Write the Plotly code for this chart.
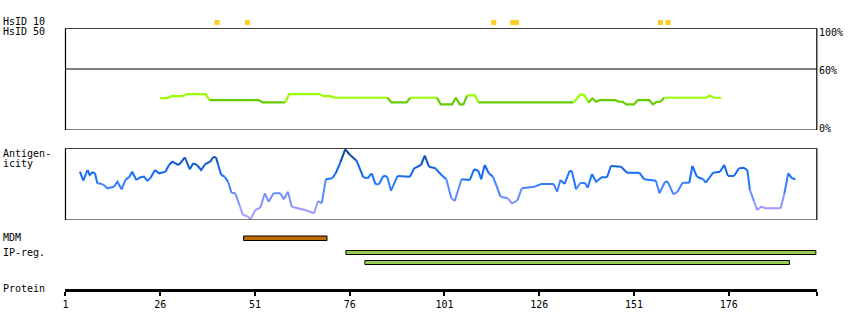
import plotly.graph_objects as go

# ---------------- data ----------------
protein_length = 199.24
tick_vals = [1, 26, 51, 76, 101, 126, 151, 176]

hsid10_pos = [41, 49, 114, 119, 120, 158, 160]

hsid50_res = [26, 28, 29, 32, 33, 38, 39, 52, 53, 59, 60, 68, 69, 71, 72, 86, 87, 91, 92, 99,
              100, 103, 104, 105, 106, 107, 109, 110, 135, 137, 138, 139, 140, 141, 142, 146,
              147, 148, 149, 151, 152, 155, 156, 157, 158, 159, 170, 171, 172, 174]
hsid50_pct = [31.4, 31.4, 33.3, 33.3, 35.3, 35.3, 29.4, 29.4, 27.1, 27.1, 35.3, 35.3, 33.3, 33.3,
              31.7, 31.7, 27.1, 27.1, 31.7, 31.7, 25.2, 25.2, 31.7, 25.2, 25.2, 34, 34, 27.1, 27.1,
              35.3, 33.7, 27.1, 31, 27.8, 29.4, 29.4, 27.8, 27.8, 25.2, 25.2, 29.4, 29.4, 25.2,
              27.8, 27.8, 31.7, 31.7, 34, 31.7, 31.7]

antig_res = [4.8, 5.7, 6.8, 7.4, 8.1, 8.8, 9.4, 10.7, 12.1, 13.8, 14.7, 15.8, 16.9, 17.8, 18.6,
             19.7, 20.8, 21.7, 22.6, 23.4, 24.6, 25.7, 27.4, 28.3, 29.2, 30, 30.9, 32.5, 33.8,
             34.7, 35.7, 36.8, 37.9, 39.2, 39.9, 40.7, 41.3, 42.1, 43, 43.9, 44.8, 45.8, 46.9,
             47.8, 48.9, 49.8, 51.1, 52.4, 53.6, 54.6, 55.9, 57.7, 58.6, 59.7, 60.7, 62.5, 64.2,
             66.6, 67.6, 68.6, 69.7, 71.4, 72.3, 73.5, 74.8, 76.1, 77.8, 79.6, 80.7, 81.8, 82.8,
             83.7, 84.9, 85.9, 86.9, 88.6, 90.6, 91.9, 93, 94.8, 95.8, 96.9, 98.6, 100.2, 101.5,
             102.8, 103.7, 105.5, 107.7, 108.8, 109.9, 110.7, 111.6, 112.7, 113.8, 115.8, 117.7,
             118.8, 120.2, 121.4, 124.8, 126.5, 129.8, 130.7, 131.6, 132.7, 134, 134.6, 135.7,
             136.9, 138.1, 138.8, 139.9, 141, 142.5, 143.9, 144.9, 147.6, 149.2, 152.4, 153.7,
             156.8, 157.7, 159.2, 159.9, 161.4, 162.5, 163.8, 165.6, 166.4, 167.6, 169.3, 169.9,
             171.9, 173.7, 174.8, 175.8, 177.4, 178.7, 179.9, 180.9, 181.6, 182.7, 183.5, 184.6,
             185.7, 189.7, 190.7, 191.7, 192.7, 193.6]
antig_score = [48.3, 39.3, 50, 45, 47.7, 46.7, 36.7, 36, 31.7, 33.3, 38.3, 30.7, 40.7, 42.7, 48.3,
               40, 42.7, 43.3, 39.3, 41.7, 50, 46.7, 48.3, 55, 58.3, 56.7, 55, 62.7, 50.7, 56.7,
               55, 50, 56, 58.3, 62.7, 62.7, 55, 45, 43.3, 38.3, 27.3, 26.7, 15, 5, 4, 0.7, 10,
               12.3, 26.7, 18.3, 26.7, 26.7, 20.7, 28.3, 13.3, 11.7, 10, 6.7, 19, 16.7, 40.7, 41.7,
               46.7, 57.3, 70.7, 65, 59.3, 42.7, 41.7, 46.7, 35.7, 35.7, 44.3, 43.3, 29.3, 44, 44,
               43.3, 51.7, 55, 64.3, 53.3, 51.7, 45, 40.7, 21.7, 19, 40.7, 40, 50.7, 49.3, 40.7,
               55, 46.7, 43.3, 23.3, 21.7, 16.7, 19.3, 31.7, 33.3, 36, 36, 28.3, 40, 36, 49, 49,
               30.7, 37.3, 36.7, 32.3, 46, 38.3, 42.7, 42.7, 54, 53.3, 47.3, 47.3, 40.7, 39.3,
               26.7, 38.3, 38.3, 25.7, 28.3, 37.3, 37.3, 54, 43.3, 40.7, 37.3, 47.3, 48.3, 55, 44,
               44, 51.7, 52.3, 50, 30, 18.3, 10, 13.3, 11.7, 11.7, 26.7, 46.7, 41.7, 40.7]
antig_max = 71.7

mdm_start = [48]
mdm_end = [70]
ipreg_start = [75, 80]
ipreg_end = [199, 192]

# ---------------- layout helpers ----------------
W, H = 850, 330
def X(px):
    return px / W
def Y(py):
    return 1 - py / H

FONT = "DejaVu Sans Mono"
fig = go.Figure()

LIGHT, DARK = "#99ff00", "#66cc00"
def add_colored_line(xs, ys, colfun, yaxis, width):
    segs = []
    for i in range(len(xs) - 1):
        c = colfun((ys[i] + ys[i + 1]) / 2)
        if segs and segs[-1][0] == c:
            segs[-1][1].append(i + 1)
        else:
            segs.append([c, [i, i + 1]])
    for c, idx in segs:
        fig.add_trace(go.Scatter(x=[xs[k] for k in idx], y=[ys[k] for k in idx], mode="lines",
                                 line=dict(color=c, width=width), yaxis=yaxis,
                                 hoverinfo="skip", showlegend=False))

add_colored_line(hsid50_res, hsid50_pct, lambda v: LIGHT if v >= 30 else DARK, "y", 2.2)

stops = [(0.0, (175, 165, 255)), (0.2, (150, 150, 255)), (0.4, (95, 140, 255)),
         (0.55, (30, 118, 255)), (0.72, (20, 100, 235)), (0.86, (15, 80, 180)),
         (1.0, (10, 60, 130))]
def blue(v):
    t = max(0, min(1, v / antig_max))
    t = round(t * 24) / 24
    for (a, ca), (b, cb) in zip(stops[:-1], stops[1:]):
        if a <= t <= b:
            f = (t - a) / (b - a)
            return "rgb(%d,%d,%d)" % tuple(int(ca[j] + (cb[j] - ca[j]) * f) for j in range(3))
    return "rgb(10,60,130)"

add_colored_line(antig_res, antig_score, blue, "y2", 2)

# HsID 10 markers
fig.add_trace(go.Scatter(x=hsid10_pos, y=[22.5] * len(hsid10_pos), mode="markers", yaxis="y3",
                         marker=dict(symbol="square", size=5, color="#ffcc22", line=dict(width=0)),
                         hoverinfo="skip", showlegend=False))

shapes = []
shapes.append(dict(type="rect", xref="paper", yref="y", x0=X(62.7), x1=X(816.7), y0=0, y1=100,
                   line=dict(color="black", width=1.2)))
shapes.append(dict(type="line", xref="paper", yref="y", x0=X(62.7), x1=X(816.7), y0=60, y1=60,
                   line=dict(color="black", width=1.2)))
shapes.append(dict(type="rect", xref="paper", yref="y2", x0=X(62.7), x1=X(816.7), y0=0, y1=antig_max,
                   line=dict(color="black", width=1.2)))
for s, e in zip(mdm_start, mdm_end):
    shapes.append(dict(type="rect", xref="x", yref="y3", x0=s, x1=e, y0=236, y1=240.5,
                       fillcolor="#c06c00", line=dict(color="black", width=1)))
for i, (s, e) in enumerate(zip(ipreg_start, ipreg_end)):
    y0 = 250.5 + 10 * i
    shapes.append(dict(type="rect", xref="x", yref="y3", x0=s, x1=e, y0=y0, y1=y0 + 4,
                       fillcolor="#99cc55", line=dict(color="black", width=1)))

annotations = []
def label(text, px, py, xanchor="left"):
    annotations.append(dict(text=text, x=X(px), y=Y(py), xref="paper", yref="paper",
                            xanchor=xanchor, yanchor="middle", showarrow=False,
                            borderpad=0, borderwidth=0,
                            font=dict(family=FONT, size=10, color="black")))
label("HsID 10", 0, 22)
label("HsID 50", 0, 32)
label("Antigen-", 0, 153)
label("icity", 0, 163)
label("MDM", 0, 237.5)
label("IP-reg.", 0, 252.5)
label("Protein", 0, 288.5)
label("100%", 819, 33)
label("60%", 819, 71)
label("0%", 819, 128)

fig.update_layout(
    width=W, height=H, margin=dict(l=0, r=0, t=0, b=0),
    paper_bgcolor="white", plot_bgcolor="rgba(0,0,0,0)",
    showlegend=False, shapes=shapes, annotations=annotations,
    xaxis=dict(domain=[X(62.7), X(816.7)], range=[1, protein_length], anchor="free",
               position=Y(289.5), showline=True, linewidth=3, linecolor="black",
               ticks="outside", ticklen=4, tickwidth=2, tickcolor="black",
               tickvals=tick_vals + [protein_length - 0.05],
               ticktext=[str(v) for v in tick_vals] + [""],
               tickfont=dict(family=FONT, size=10, color="black"),
               showgrid=False, zeroline=False, fixedrange=True),
    yaxis=dict(domain=[Y(130), Y(28.3)], range=[0, 100], visible=False, fixedrange=True),
    yaxis2=dict(domain=[Y(220), Y(148.3)], range=[0, antig_max], visible=False, fixedrange=True),
    yaxis3=dict(domain=[0, 1], range=[H, 0], visible=False, fixedrange=True),
)

fig.write_html("out.html")
